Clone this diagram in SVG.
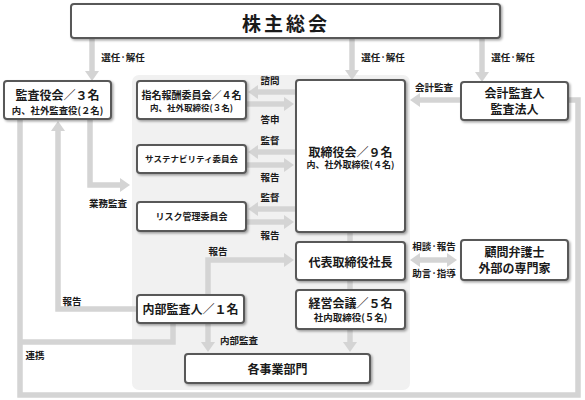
<svg xmlns="http://www.w3.org/2000/svg" width="585" height="400" viewBox="0 0 585 400">
<defs>
<filter id="sh" x="-10%" y="-10%" width="130%" height="140%">
<feDropShadow dx="1.5" dy="1.5" stdDeviation="1" flood-color="#000" flood-opacity="0.35"/>
</filter>
<marker id="ah" markerUnits="userSpaceOnUse" markerWidth="10" markerHeight="14" viewBox="0 0 10 14" refX="2" refY="7" orient="auto-start-reverse">
<path d="M0,0L10,7L0,14z" fill="#d4d4d4"/>
</marker>
</defs>
<style>
text{font-family:"Noto Sans CJK JP","Noto Sans CJK SC",sans-serif;font-weight:bold;fill:#1a1a1a;text-anchor:middle}
.box{fill:#fff;stroke:#595959;stroke-width:2;filter:url(#sh)}
.c{fill:none;stroke:#d4d4d4;stroke-width:5.5}
.a{marker-end:url(#ah)}
.l{font-size:9.5px}
.t12{font-size:12px}
.s9{font-size:9px}
</style>
<rect x="132" y="75" width="278" height="315" rx="7" fill="#f1f1f1"/>
<g id="connectors">
<path class="c a" d="M92,38V73"/>
<path class="c a" d="M352,38V72"/>
<path class="c a" d="M482,38V74"/>
<path class="c a" d="M296,92H256"/>
<path class="c a" d="M246,104H286"/>
<path class="c a" d="M296,152H256"/>
<path class="c a" d="M246,165H286"/>
<path class="c a" d="M296,209H256"/>
<path class="c a" d="M246,222H286"/>
<path class="c a" d="M90,119V185H122"/>
<path class="c a" d="M137,309H58V129"/>
<path class="c a" d="M208,295V260H286"/>
<path class="c a" d="M208,323V344"/>
<path class="c a" d="M350,329V344"/>
<path class="c a" d="M461,100H418"/>
<path class="c a" d="M418,260H449" marker-start="url(#ah)"/>
<path class="c" d="M20,119V395H578V100H568"/>
<path class="c" d="M20,342H173V323"/>
<path class="c" d="M350,232V242M350,280V290"/>
<text class="l" x="123" y="60.6">選任·解任</text>
<text class="l" x="383" y="60.6">選任·解任</text>
<text class="l" x="513" y="60.6">選任·解任</text>
<text class="l" x="270" y="83.6">諮問</text>
<text class="l" x="270" y="122.6">答申</text>
<text class="l" x="270" y="143.6">監督</text>
<text class="l" x="270" y="180.6">報告</text>
<text class="l" x="270" y="200.6">監督</text>
<text class="l" x="270" y="238.6">報告</text>
<text class="l" x="218" y="254.6">報告</text>
<text class="l" x="108" y="206.6">業務監査</text>
<text class="l" x="72" y="304.6">報告</text>
<text class="l" x="35" y="358.6">連携</text>
<text class="l" x="239" y="343.6">内部監査</text>
<text class="l" x="434" y="90.6">会計監査</text>
<text class="l" x="434" y="249.6">相談·報告</text>
<text class="l" x="434" y="276.6">助言·指導</text>
</g>
<g id="shareholders">
<rect class="box" x="71" y="4" width="429" height="34" rx="3"/>
<text x="286" y="30.5" style="font-size:19px;letter-spacing:3px">株主総会</text>
</g>
<g id="kansayakukai">
<rect class="box" x="4" y="81" width="107" height="38" rx="3"/>
<text class="t12" x="57.5" y="99.6">監査役会／３名</text>
<text x="57.5" y="113.6" style="font-size:9.4px">内、社外監査役(２名)</text>
</g>
<g id="shimei">
<rect class="box" x="137" y="81" width="109" height="38" rx="3"/>
<text x="191.5" y="98.8" style="font-size:10px">指名報酬委員会／４名</text>
<text x="191.5" y="111.4" style="font-size:8.5px">内、社外取締役(３名)</text>
</g>
<g id="sustainability">
<rect class="box" x="137" y="145" width="109" height="28" rx="3"/>
<text x="191.5" y="162.3" style="font-size:8.5px">サステナビリティ委員会</text>
</g>
<g id="risk">
<rect class="box" x="137" y="202" width="109" height="29" rx="3"/>
<text class="s9" x="191.5" y="220">リスク管理委員会</text>
</g>
<g id="torishimariyakukai">
<rect class="box" x="296" y="80" width="109" height="152" rx="3"/>
<text class="t12" x="350.5" y="156.6">取締役会／９名</text>
<text class="s9" x="350.5" y="168.4">内、社外取締役(４名)</text>
</g>
<g id="president">
<rect class="box" x="296" y="242" width="109" height="38" rx="3"/>
<text class="t12" x="350.5" y="266.6">代表取締役社長</text>
</g>
<g id="keiei">
<rect class="box" x="296" y="290" width="109" height="39" rx="3"/>
<text class="t12" x="350.5" y="307.6">経営会議／５名</text>
<text x="350.5" y="320.6" style="font-size:9.5px">社内取締役(５名)</text>
</g>
<g id="jigyobumon">
<rect class="box" x="185" y="354" width="185" height="29" rx="3"/>
<text class="t12" x="277.5" y="373.6">各事業部門</text>
</g>
<g id="naibukansa">
<rect class="box" x="137" y="295" width="107" height="28" rx="3"/>
<text class="t12" x="190.5" y="313.6">内部監査人／１名</text>
</g>
<g id="kaikeikansanin">
<rect class="box" x="461" y="82" width="107" height="38" rx="3"/>
<text class="t12" x="514.5" y="97.6">会計監査人</text>
<text class="t12" x="514.5" y="113.6">監査法人</text>
</g>
<g id="advisors">
<rect class="box" x="461" y="240" width="107" height="40" rx="3"/>
<text class="t12" x="514.5" y="256.5">顧問弁護士</text>
<text class="t12" x="514.5" y="272.5">外部の専門家</text>
</g>
</svg>
